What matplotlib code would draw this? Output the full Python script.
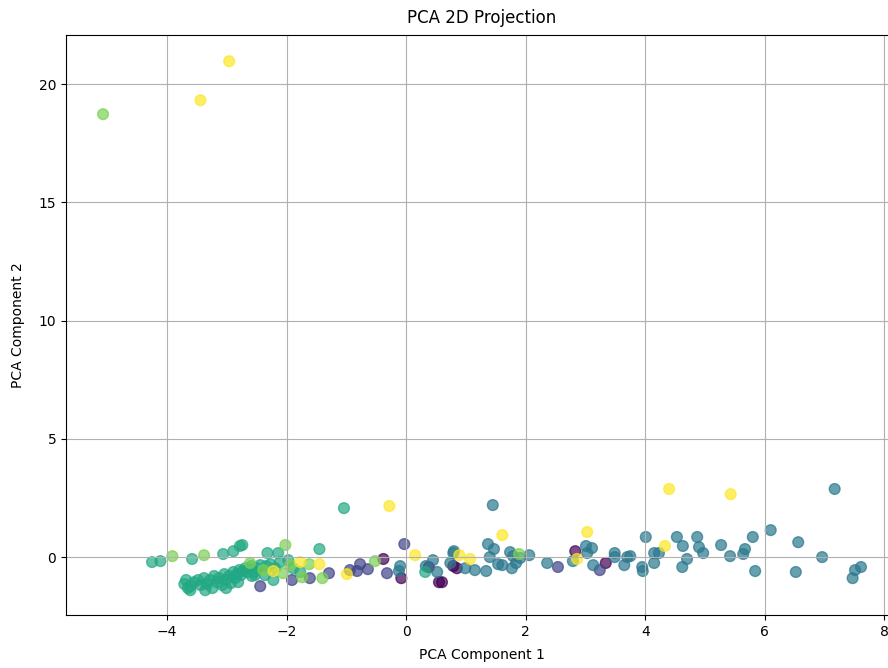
import matplotlib

matplotlib.use("Agg")
import matplotlib.pyplot as plt
import numpy as np

# cluster 0 (dark purple)
pc1_c0 = [2.83, 3.34, 0.79, 0.85, 0.60, -0.38, -0.08, 0.38, 0.55]
pc2_c0 = [0.25, -0.25, -0.38, -0.47, -1.06, -0.08, -0.89, -0.42, -1.06]

# cluster 1 (slate blue)
pc1_c1 = [-0.03, -0.77, -0.94, -0.82, -0.64, -0.32, 2.54, 3.24, -2.44, -1.29, -1.61, -1.91]
pc2_c1 = [0.55, -0.30, -0.55, -0.59, -0.51, -0.68, -0.42, -0.55, -1.23, -0.68, -0.89, -0.97]

# cluster 2 (teal)
pc1_c2 = [1.45, 7.17, 4.01, 4.53, 4.63, 4.87, 4.90, 4.97, 5.27, 5.42, 5.64, 5.67,
          5.80, 5.84, 6.10, 6.56, 6.52, 6.96, 7.47, 7.51, 7.61, 4.15, 4.23, 4.15,
          3.95, 3.96, 4.70, 4.62, 3.65, 3.49, 3.49, 3.70, 3.75, 3.01, 3.11, 3.03,
          2.79, 2.36, 3.13, 1.37, 1.47, 0.80, 0.74, 0.99, 1.15, 1.34, 1.40, 1.54,
          1.61, 1.74, 1.79, 1.84, 1.77, 1.91, 2.06, -0.10, -0.12, 0.33, 0.45, 0.52,
          0.79]
pc2_c2 = [2.20, 2.88, 0.85, 0.85, 0.47, 0.85, 0.42, 0.17, 0.51, 0.04, 0.13, 0.34,
          0.85, -0.59, 1.14, 0.63, -0.63, 0.00, -0.89, -0.55, -0.42, 0.17, 0.17, -0.25,
          -0.42, -0.59, -0.08, -0.42, -0.34, 0.17, 0.00, 0.00, 0.04, 0.47, 0.38, 0.17,
          -0.17, -0.25, -0.34, 0.55, 0.34, 0.25, -0.25, -0.47, -0.55, -0.59, 0.00, -0.30,
          -0.34, 0.21, 0.04, -0.25, -0.47, -0.04, 0.08, -0.38, -0.59, -0.38, -0.13, -0.63,
          0.17]

# cluster 3 (green-teal)
pc1_c3 = [-1.04, 0.32, -2.74, -1.45, -2.32, -2.14, -1.97, -1.77, -1.89, -2.22, -2.66, -2.53,
          -4.25, -4.11, -3.58, -3.06, -2.89, -2.78,
          -3.71, -3.68, -3.65, -3.61, -3.55, -3.48, -3.44, -3.38, -3.36, -3.33, -3.28, -3.24,
          -3.21, -3.16, -3.13, -3.08, -3.04, -3.01, -3.01, -2.96, -2.93, -2.89, -2.86, -2.83,
          -2.81, -2.79, -2.76, -2.73, -2.69, -2.63, -2.59, -2.58, -2.54, -2.49, -2.44, -2.36,
          -2.34, -2.27, -2.19, -2.11, -3.61]
pc2_c3 = [2.07, -0.63, 0.51, 0.34, 0.17, 0.17, -0.13, -0.63, -0.47, -0.97, -0.63, -0.76,
          -0.21, -0.17, -0.08, 0.13, 0.25, 0.47,
          -1.14, -0.97, -1.31, -1.23, -1.06, -0.97, -1.18, -0.89, -1.40, -1.14, -0.97, -1.31,
          -0.80, -1.06, -0.89, -1.18, -0.72, -0.97, -1.31, -0.80, -1.10, -0.63, -0.89, -0.72,
          -1.06, -0.55, -0.76, -0.59, -0.47, -0.51, -0.38, -0.80, -0.63, -0.47, -0.34, -0.76,
          -0.38, -0.30, -0.47, -0.21, -1.40]

# cluster 4 (light green)
pc1_c4 = [-5.07, -0.52, 1.89, -2.02, -1.62, -2.61, -2.39, -1.40, -1.74, -2.06, -1.94, -3.91, -3.38]
pc2_c4 = [18.73, -0.17, 0.13, 0.51, -0.30, -0.25, -0.55, -0.89, -0.85, -0.68, -0.34, 0.04, 0.08]

# cluster 5 (yellow)
pc1_c5 = [-3.44, -2.96, -0.28, 1.61, 4.40, 5.43, 3.03, 4.33, 0.15, 0.89, 1.07, 2.86,
          -0.99, -1.77, -1.45, -2.22]
pc2_c5 = [19.32, 20.97, 2.16, 0.93, 2.88, 2.66, 1.06, 0.47, 0.08, 0.08, -0.08, -0.08,
          -0.72, -0.21, -0.30, -0.59]

pc1_groups = [pc1_c0, pc1_c1, pc1_c2, pc1_c3, pc1_c4, pc1_c5]
pc2_groups = [pc2_c0, pc2_c1, pc2_c2, pc2_c3, pc2_c4, pc2_c5]

pc1 = np.concatenate(pc1_groups)
pc2 = np.concatenate(pc2_groups)
labels = np.concatenate([[k] * len(g) for k, g in enumerate(pc1_groups)])

fig = plt.figure(figsize=(8.88, 6.68), dpi=100)
ax = fig.add_axes([0.0743, 0.0793, 0.937, 0.868])
ax.scatter(pc1, pc2, c=labels, cmap="viridis", alpha=0.7, s=60)
ax.set_xlim(-5.69, 8.23)
ax.set_ylim(-2.45, 22.07)
ax.set_title("PCA 2D Projection", pad=9)
ax.set_xlabel("PCA Component 1", labelpad=7)
ax.set_ylabel("PCA Component 2", labelpad=10)
ax.grid(True)
fig.savefig("out.png", dpi=100)
